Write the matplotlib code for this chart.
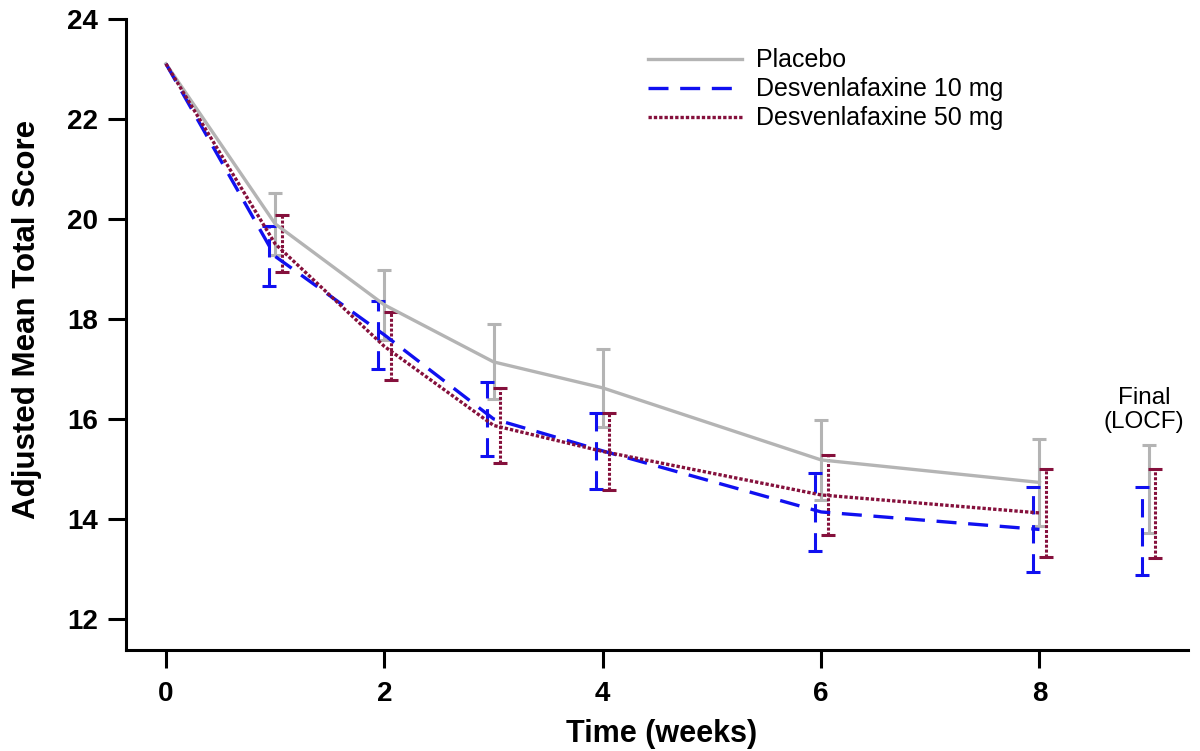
import numpy as np
import matplotlib.pyplot as plt

plt.rcParams['font.family'] = ['Liberation Sans', 'DejaVu Sans']

# weeks with a connected line (0..8), final LOCF drawn at x = 9
weeks = [0, 1, 2, 3, 4, 6, 8]
final_x = 9

placebo_mean = [23.1, 19.90, 18.28, 17.14, 16.62, 15.18, 14.73]
placebo_se = [0, 0.62, 0.70, 0.75, 0.78, 0.80, 0.87]
placebo_final = (14.60, 0.88)

d10_mean = [23.1, 19.25, 17.68, 16.00, 15.36, 14.14, 13.79]
d10_se = [0, 0.60, 0.68, 0.74, 0.76, 0.78, 0.85]
d10_final = (13.76, 0.88)

d50_mean = [23.1, 19.50, 17.45, 15.87, 15.35, 14.48, 14.12]
d50_se = [0, 0.57, 0.68, 0.75, 0.77, 0.80, 0.88]
d50_final = (14.11, 0.89)

fig = plt.figure(figsize=(12, 7.51), dpi=100)
ax = fig.add_axes([0.105, 0.1345, 0.885, 0.8405])

gray = '#b4b4b4'
blue = '#1010f0'
maroon = '#85103c'

series = [
    ("Placebo", placebo_mean, placebo_se, placebo_final, gray, '-', 0.0),
    ("Desvenlafaxine 10 mg", d10_mean, d10_se, d10_final, blue, (0, (6, 3.5)), -0.06),
    ("Desvenlafaxine 50 mg", d50_mean, d50_se, d50_final, maroon, (0, (1, 0.6)), 0.06),
]

for label, m, se, fin, col, ls, off in series:
    ax.plot(weeks, m, color=col, linestyle=ls, lw=2.4, label=label, zorder=3)
    ex = [w + off for w in weeks[1:]] + [final_x + off]
    ey = m[1:] + [fin[0]]
    ee = se[1:] + [fin[1]]
    eb = ax.errorbar(ex, ey, yerr=ee, fmt='none', ecolor=col, elinewidth=2.2,
                     capsize=5, capthick=2.2, zorder=2)
    eb[2][0].set_linestyle(ls)

ax.text(8.956, 15.72, "Final\n(LOCF)", ha='center', va='bottom',
        fontsize=17.5, linespacing=1.1)

ax.set_xlim(-0.366, 9.36)
ax.set_ylim(11.38, 24.0)
ax.set_xticks([0, 2, 4, 6, 8])
ax.set_yticks([12, 14, 16, 18, 20, 22, 24])
ax.tick_params(width=2.2, length=13, labelsize=20)
ax.tick_params(axis='x', pad=9)
ax.tick_params(axis='y', pad=7)
for t in ax.get_xticklabels() + ax.get_yticklabels():
    t.set_fontweight('bold')

for s in ['top', 'right']:
    ax.spines[s].set_visible(False)
for s in ['left', 'bottom']:
    ax.spines[s].set_linewidth(2.2)

ax.set_xlabel("Time (weeks)", fontsize=22, fontweight='bold')
ax.set_ylabel("Adjusted Mean Total Score", fontsize=22.5, fontweight='bold')
ax.xaxis.set_label_coords(0.504, -0.11)
ax.yaxis.set_label_coords(-0.079, 0.523)

ax.legend(loc='upper left', bbox_to_anchor=(0.4915, 0.953), frameon=False,
          fontsize=18, handlelength=3.76, handletextpad=0.56, labelspacing=0.2,
          borderpad=0, borderaxespad=0)

fig.savefig("out.png", dpi=100)
